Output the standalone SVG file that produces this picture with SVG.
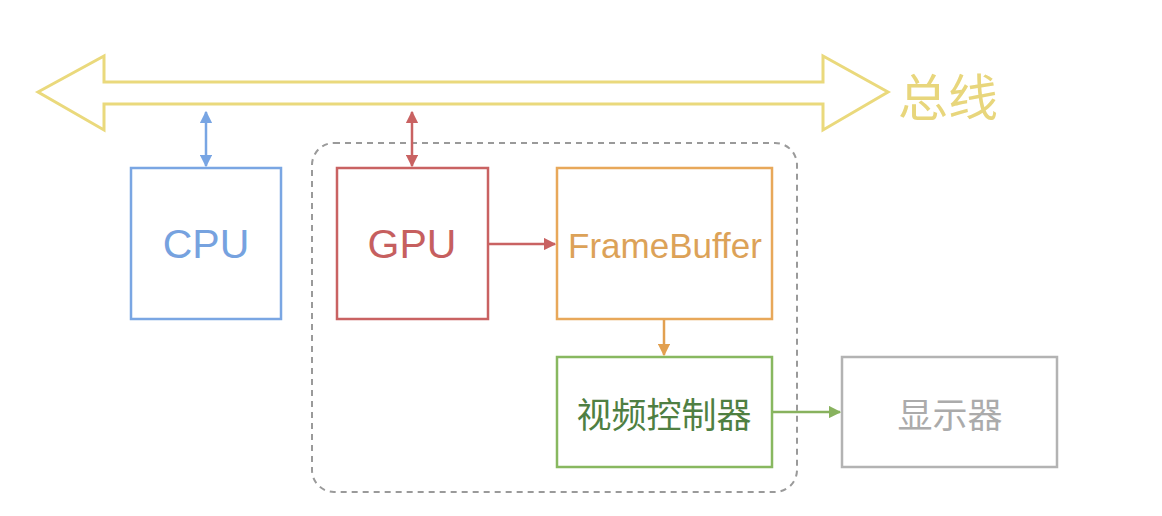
<svg xmlns="http://www.w3.org/2000/svg" width="1162" height="516" viewBox="0 0 1162 516">
<defs>
<style>
.box{fill:none;stroke-width:2.5}
.lbl{font-family:"Liberation Sans","Noto Sans CJK SC",sans-serif;text-anchor:middle;dominant-baseline:central}
.cjk{font-family:"Noto Sans CJK SC","Liberation Sans",sans-serif;text-anchor:middle;dominant-baseline:central}
.conn{fill:none;stroke-width:2.5}
</style>
<marker id="mBlue" viewBox="0 0 10 10" refX="9" refY="5" markerWidth="5" markerHeight="5" orient="auto-start-reverse" markerUnits="strokeWidth"><path d="M0,0 L10,5 L0,10 z" fill="#78a5e3"/></marker>
<marker id="mRed" viewBox="0 0 10 10" refX="9" refY="5" markerWidth="5" markerHeight="5" orient="auto-start-reverse" markerUnits="strokeWidth"><path d="M0,0 L10,5 L0,10 z" fill="#c96262"/></marker>
<marker id="mOrange" viewBox="0 0 10 10" refX="9" refY="5" markerWidth="5" markerHeight="5" orient="auto" markerUnits="strokeWidth"><path d="M0,0 L10,5 L0,10 z" fill="#e2a050"/></marker>
<marker id="mGreen" viewBox="0 0 10 10" refX="9" refY="5" markerWidth="5" markerHeight="5" orient="auto" markerUnits="strokeWidth"><path d="M0,0 L10,5 L0,10 z" fill="#88b25e"/></marker>
</defs>
<rect width="1162" height="516" fill="#ffffff"/>
<g id="bus">
<path d="M38,92 L104,56 L104,82 L823,82 L823,56 L888,92 L823,130 L823,104 L104,104 L104,130 Z" fill="none" stroke="#ead97c" stroke-width="3" stroke-linejoin="miter"/>
<text class="cjk" x="948" y="94" font-size="50" fill="#e8d67c">总线</text>
</g>
<g id="group">
<rect x="312" y="143" width="485" height="349" rx="22" ry="22" fill="none" stroke="#9a9a9a" stroke-width="2" stroke-dasharray="6,5"/>
</g>
<g id="cpu">
<rect class="box" x="131" y="168" width="150" height="151" stroke="#7aa6e3"/>
<text class="lbl" x="206" y="244" font-size="41" fill="#76a2df">CPU</text>
</g>
<g id="gpu">
<rect class="box" x="337" y="168" width="151" height="151" stroke="#c96262"/>
<text class="lbl" x="412" y="244" font-size="41" fill="#c65f5f">GPU</text>
</g>
<g id="framebuffer">
<rect class="box" x="557" y="168" width="215" height="151" stroke="#e8a85a"/>
<text class="lbl" x="665" y="245" font-size="35" fill="#dca258">FrameBuffer</text>
</g>
<g id="videoctrl">
<rect class="box" x="557" y="357" width="215" height="110" stroke="#88b860"/>
<text class="cjk" x="664" y="412" font-size="35" fill="#4f7f42">视频控制器</text>
</g>
<g id="display">
<rect class="box" x="842" y="357" width="215" height="110" stroke="#b3b3b3"/>
<text class="cjk" x="950" y="412" font-size="35" fill="#ababab">显示器</text>
</g>
<g id="connectors">
<line class="conn" x1="206" y1="112" x2="206" y2="166" stroke="#78a5e3" marker-start="url(#mBlue)" marker-end="url(#mBlue)"/>
<line class="conn" x1="412" y1="112" x2="412" y2="166" stroke="#c96262" marker-start="url(#mRed)" marker-end="url(#mRed)"/>
<line class="conn" x1="489" y1="244" x2="555" y2="244" stroke="#c96262" marker-end="url(#mRed)"/>
<line class="conn" x1="664" y1="320" x2="664" y2="355" stroke="#e2a050" marker-end="url(#mOrange)"/>
<line class="conn" x1="773" y1="412" x2="840" y2="412" stroke="#88b25e" marker-end="url(#mGreen)"/>
</g>
</svg>
